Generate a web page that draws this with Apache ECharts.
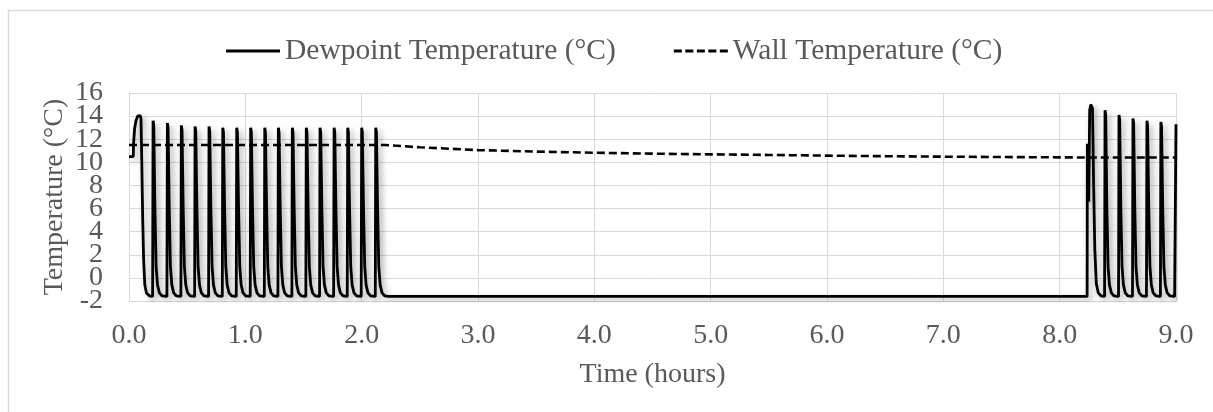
<!DOCTYPE html>
<html>
<head>
<meta charset="utf-8">
<title>Dewpoint and Wall Temperature</title>
<script src="https://cdn.jsdelivr.net/npm/echarts@6/dist/echarts.min.js"></script>
<style>
  html, body { margin: 0; padding: 0; background: #fff; }
  #chart { width: 1213px; height: 412px; }
</style>
</head>
<body>
<div id="chart"></div>
<script>
// Series names
var seriesNames = ['Dewpoint Temperature (°C)', 'Wall Temperature (°C)'];

// y tick labels, split over two label rows so none get dropped as overlapping
var yLabelsOdd = [-2, 2, 6, 10, 14];
var yLabelsEven = [0, 4, 8, 12, 16];

// Dewpoint temperature, [hours, °C]
var dewStartup = [
  [0, 10.5], [0.037, 10.5], [0.039, 11.6], [0.048, 12.9], [0.06, 13.6], [0.075, 14.0],
  [0.095, 14.05], [0.103, 13.8], [0.11, 10], [0.118, 5], [0.126, 1.5], [0.136, -0.6],
  [0.15, -1.3], [0.175, -1.55]
];
var dewCycling1 = [
  [0.203, -1.6], [0.207, 13.6], [0.213, 13.2], [0.223, 6], [0.233, 1], [0.245, -0.6], [0.261, -1.3], [0.283, -1.55],
  [0.326, -1.6], [0.330, 13.4], [0.336, 13.0], [0.346, 6], [0.356, 1], [0.368, -0.6], [0.384, -1.3], [0.406, -1.55],
  [0.446, -1.6], [0.450, 13.2], [0.456, 12.8], [0.466, 6], [0.476, 1], [0.488, -0.6], [0.504, -1.3], [0.526, -1.55],
  [0.564, -1.6], [0.568, 13.1], [0.574, 12.7], [0.584, 6], [0.594, 1], [0.606, -0.6], [0.622, -1.3], [0.644, -1.55],
  [0.684, -1.6], [0.688, 13.1], [0.694, 12.7], [0.704, 6], [0.714, 1], [0.726, -0.6], [0.742, -1.3], [0.764, -1.55],
  [0.802, -1.6], [0.806, 13.0], [0.812, 12.6], [0.822, 6], [0.832, 1], [0.844, -0.6], [0.860, -1.3], [0.882, -1.55],
  [0.922, -1.6], [0.926, 13.0], [0.932, 12.6], [0.942, 6], [0.952, 1], [0.964, -0.6], [0.980, -1.3], [1.002, -1.55],
  [1.042, -1.6], [1.046, 13.0], [1.052, 12.6], [1.062, 6], [1.072, 1], [1.084, -0.6], [1.100, -1.3], [1.122, -1.55],
  [1.163, -1.6], [1.167, 13.0], [1.173, 12.6], [1.183, 6], [1.193, 1], [1.205, -0.6], [1.221, -1.3], [1.243, -1.55],
  [1.280, -1.6], [1.284, 13.0], [1.290, 12.6], [1.300, 6], [1.310, 1], [1.322, -0.6], [1.338, -1.3], [1.360, -1.55],
  [1.400, -1.6], [1.404, 13.0], [1.410, 12.6], [1.420, 6], [1.430, 1], [1.442, -0.6], [1.458, -1.3], [1.480, -1.55],
  [1.520, -1.6], [1.524, 13.0], [1.530, 12.6], [1.540, 6], [1.550, 1], [1.562, -0.6], [1.578, -1.3], [1.600, -1.55],
  [1.638, -1.6], [1.642, 13.0], [1.648, 12.6], [1.658, 6], [1.668, 1], [1.680, -0.6], [1.696, -1.3], [1.718, -1.55],
  [1.759, -1.6], [1.763, 13.0], [1.769, 12.6], [1.779, 6], [1.789, 1], [1.801, -0.6], [1.817, -1.3], [1.839, -1.55],
  [1.876, -1.6], [1.880, 13.0], [1.886, 12.6], [1.896, 6], [1.906, 1], [1.918, -0.6], [1.934, -1.3], [1.956, -1.55],
  [1.996, -1.6], [2.000, 13.0], [2.006, 12.6], [2.016, 6], [2.026, 1], [2.038, -0.6], [2.054, -1.3], [2.076, -1.55],
  [2.117, -1.6], [2.121, 13.0], [2.127, 12.6], [2.137, 6], [2.147, 1], [2.159, -0.6], [2.175, -1.3], [2.197, -1.55],
  [2.23, -1.6]
];
var dewIdle = [[8.236, -1.6]];
var dewCycling2 = [
  [8.238, 11.6], [8.250, 6.6], [8.258, 14.5], [8.268, 15.0], [8.282, 14.7], [8.292, 8], [8.302, 2.5], [8.315, -0.5], [8.332, -1.3], [8.355, -1.55],
  [8.386, -1.6], [8.390, 14.5], [8.396, 14.1], [8.406, 6], [8.416, 1], [8.428, -0.6], [8.444, -1.3], [8.466, -1.55],
  [8.506, -1.6], [8.510, 14.1], [8.516, 13.7], [8.526, 6], [8.536, 1], [8.548, -0.6], [8.564, -1.3], [8.586, -1.55],
  [8.626, -1.6], [8.630, 13.8], [8.636, 13.4], [8.646, 6], [8.656, 1], [8.668, -0.6], [8.684, -1.3], [8.706, -1.55],
  [8.746, -1.6], [8.750, 13.6], [8.756, 13.2], [8.766, 6], [8.776, 1], [8.788, -0.6], [8.804, -1.3], [8.826, -1.55],
  [8.866, -1.6], [8.870, 13.5], [8.876, 13.1], [8.886, 6], [8.896, 1], [8.908, -0.6], [8.924, -1.3], [8.946, -1.55],
  [8.988, -1.6], [9.0, 13.3]
];

// Wall temperature, [hours, °C]
var wallTemp = [
  [0, 11.5], [2.2, 11.5], [2.5, 11.3], [3.0, 11.06], [3.5, 10.93], [4.0, 10.83], [4.5, 10.75],
  [5.0, 10.69], [5.5, 10.64], [6.0, 10.58], [6.5, 10.53], [7.0, 10.49], [7.5, 10.46],
  [8.0, 10.43], [8.25, 10.42], [9.0, 10.42]
];

var dewpoint = dewStartup.concat(dewCycling1, dewIdle, dewCycling2);

var FONT = '"Liberation Serif", "Times New Roman", serif';
var TEXT = '#595959';
var GRID = '#d9d9d9';

// legend keys: a solid bar and a bar of five dashes
var solidKey = 'path://M0,0H54V3H0Z';
var dashKey = 'path://M0,0h8v3h-8z M11.5,0h8v3h-8z M23,0h8v3h-8z M34.5,0h8v3h-8z M46,0h8v3h-8z';

var yLabelStyle = { margin: 26, fontFamily: FONT, fontSize: 28, color: TEXT };

var chart = echarts.init(document.getElementById('chart'), null, { renderer: 'canvas' });
chart.setOption({
  animation: false,
  backgroundColor: '#fff',
  graphic: [{
    type: 'rect',
    z: -1,
    shape: { x: 8.5, y: 10.5, width: 1300, height: 500 },
    style: { fill: 'none', stroke: GRID, lineWidth: 1.5 }
  }],
  legend: {
    left: 221,
    top: 31,
    itemWidth: 54,
    itemHeight: 3,
    itemGap: 58,
    textStyle: { fontFamily: FONT, fontSize: 29.5, color: TEXT },
    data: [
      { name: seriesNames[0], icon: solidKey, itemStyle: { color: '#000' } },
      { name: seriesNames[1], icon: dashKey, itemStyle: { color: '#000' } }
    ]
  },
  grid: { left: 129, right: 37, top: 93, bottom: 111 },
  xAxis: {
    type: 'value',
    min: 0,
    max: 9,
    interval: 1,
    name: 'Time (hours)',
    nameLocation: 'middle',
    nameGap: 60,
    nameTextStyle: { fontFamily: FONT, fontSize: 28, color: TEXT },
    axisLine: { show: true, lineStyle: { color: GRID, width: 1 } },
    axisTick: { show: false },
    axisLabel: {
      margin: 21,
      showMinLabel: true, showMaxLabel: true,
      fontFamily: FONT, fontSize: 28, color: TEXT,
      formatter: function (v) { return v.toFixed(1); }
    },
    splitLine: { show: true, lineStyle: { color: GRID, width: 1 } }
  },
  yAxis: [
    {
      type: 'value',
      min: -2,
      max: 16,
      interval: 2,
      name: 'Temperature (°C)',
      nameLocation: 'middle',
      nameGap: 60,
      nameMoveOverlap: false,
      nameTextStyle: { fontFamily: FONT, fontSize: 28, color: TEXT },
      axisLine: { show: true, lineStyle: { color: GRID, width: 1 } },
      axisTick: { show: false },
      axisLabel: Object.assign({ customValues: yLabelsOdd }, yLabelStyle),
      splitLine: { show: true, lineStyle: { color: GRID, width: 1 } }
    },
    {
      type: 'value',
      position: 'left',
      min: -2,
      max: 16,
      interval: 2,
      axisLine: { show: false },
      axisTick: { show: false },
      axisLabel: Object.assign({ customValues: yLabelsEven }, yLabelStyle),
      splitLine: { show: false }
    }
  ],
  series: [
    {
      name: seriesNames[0],
      type: 'line',
      symbol: 'none',
      data: dewpoint,
      itemStyle: { color: '#000' },
      lineStyle: {
        color: '#000', width: 2.8,
        shadowColor: 'rgba(0,0,0,0.35)', shadowBlur: 6, shadowOffsetX: 3, shadowOffsetY: 3
      },
      z: 3
    },
    {
      name: seriesNames[1],
      type: 'line',
      symbol: 'none',
      data: wallTemp,
      itemStyle: { color: '#000' },
      lineStyle: { color: '#000', width: 2.6, type: [8, 4] },
      z: 2
    }
  ]
});
</script>
</body>
</html>
